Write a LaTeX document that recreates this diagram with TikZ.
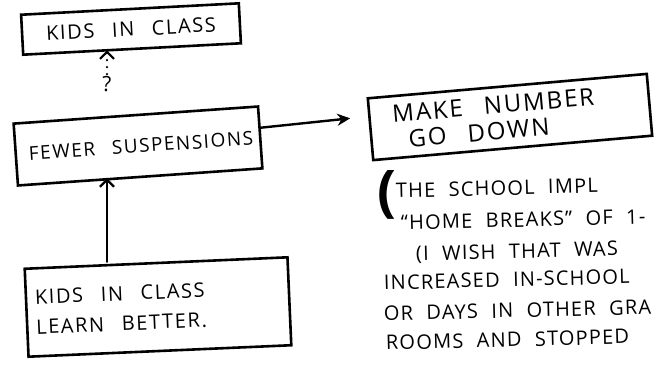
\documentclass[tikz,border=0pt]{standalone}
\usepackage{fontspec}
\usepackage{tikz}
\usetikzlibrary{arrows.meta,calc}
\newfontfamily\hand[LetterSpace=8,WordSpace=2.6]{Open Sans}
\newfontfamily\notehand[LetterSpace=6,WordSpace=2.1]{Open Sans}

\tikzset{
  box/.style={draw, line width=2.6pt, inner sep=0pt},
  barb/.style={-{Straight Barb[length=7pt,width=14pt,line width=2.2pt]}},
  note/.style={anchor=base west, inner sep=0pt, rotate=1.5, font={\notehand\fontsize{20}{22}\selectfont}},
}

\begin{document}
\begin{tikzpicture}[x=1pt,y=-1pt,line width=2.4pt,line cap=round]
  % frame of the page
  \clip (0,0) rectangle (656,365);
  \fill[white] (0,0) rectangle (656,365);

  % boxes on the left
  \node[box, minimum width=218pt, minimum height=40pt, rotate=3,
        font={\hand\fontsize{20}{22}\selectfont}] (kids) at (131,29) {KIDS IN CLASS};
  \node[box, minimum width=245pt, minimum height=62pt, rotate=4,
        font={\hand\fontsize{19}{22}\selectfont}] (fewer) at (138,146) {\hspace*{6pt}FEWER SUSPENSIONS};
  \node[box, minimum width=263pt, minimum height=88pt, rotate=2.5, align=flush left,
        text width=245pt, font={\hand\fontsize{20}{30}\selectfont}] (learn) at (158,307)
        {KIDS IN CLASS\\LEARN BETTER.};

  % box on the right
  \node[box, minimum width=280pt, minimum height=62pt, rotate=5, align=flush left,
        text width=250pt, font={\hand\fontsize{24}{26}\selectfont}] (make) at (510,117)
        {\hspace*{8pt}MAKE NUMBER\\\hspace*{22pt}GO DOWN};

  % question mark and arrows
  \node[inner sep=1pt, font={\hand\fontsize{21}{22}\selectfont}] (q) at (107,84) {?};
  \draw[barb, dash pattern=on 0pt off 7pt] (q.north) -- (kids.south -| q.north);
  \draw[barb] (learn.north -| q) -- (fewer.south -| q);
  \draw[-{Stealth[length=13pt,width=12pt]}, shorten >=18pt]
    ($(fewer.north east)!0.35!(fewer.south east)$) -- ($(make.north west)!0.3!(make.south west)$);

  % notes under the right box
  \node[inner sep=0pt, font={\hand\bfseries\fontsize{56}{56}\selectfont}] (paren) at (387,195) {(};
  \foreach \x/\y/\t [count=\i] in {395/198/THE SCHOOL IMPL,
                                   400/230/“HOME BREAKS” OF 1-,
                                   415/261/(I WISH THAT WAS,
                                   383/290/INCREASED IN-SCHOOL,
                                   383/321/OR DAYS IN OTHER GRA,
                                   385/350/ROOMS AND STOPPED} {
    \node[note] (p\i) at (\x,\y) {\t};
  }
\end{tikzpicture}
\end{document}
